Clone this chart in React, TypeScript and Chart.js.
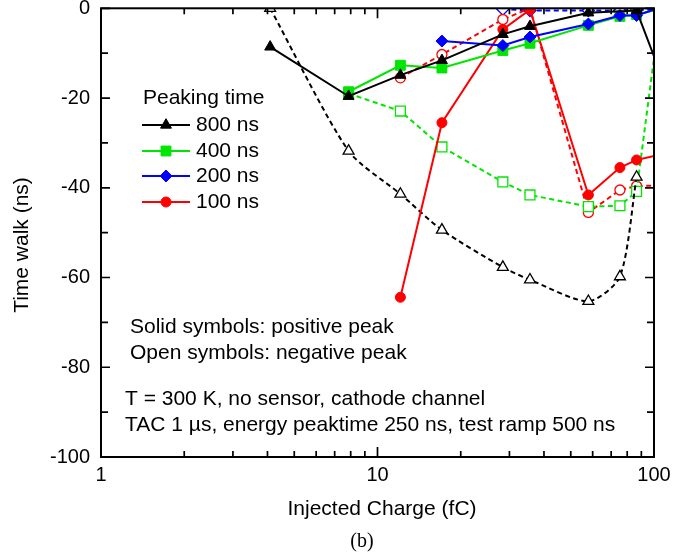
import React, { useEffect, useRef } from 'react';
import { Chart, registerables } from 'chart.js';

Chart.register(...registerables);

// ---------- data ----------
const q800 = [4.09, 7.86, 12.1, 17.1, 28.4, 35.6, 57.9, 86.5, 117];
const pos800 = [-8.6, -19.6, -14.9, -11.6, -5.8, -4.0, -1.0, -0.5, -21.7];
const qNeg800 = [4.09, 7.86, 12.1, 17.1, 28.4, 35.6, 57.9, 75.3, 86.5];
const neg800 = [0, -31.8, -41.4, -49.4, -57.7, -60.5, -65.3, -59.8, -37.6];

const q400 = [7.86, 12.1, 17.1, 28.4, 35.6, 57.9, 75.3, 86.5, 117];
const pos400 = [-18.6, -12.7, -13.3, -9.4, -7.8, -3.8, -1.8, -1.4, 0.5];
const neg400 = [-19.0, -22.9, -30.9, -38.7, -41.6, -44.2, -44.0, -40.8, 21];

const q200 = [17.1, 28.4, 35.6, 57.9, 75.3, 86.5, 117];
const pos200 = [-7.3, -8.3, -6.4, -3.5, -1.6, -1.6, 1.1];
const qNeg200 = [28.4, 35.6, 57.9, 75.3, 86.5, 117];
const neg200 = [-0.2, -0.5, -0.5, -0.5, -0.4, 0];

const q100 = [12.1, 17.1, 28.4, 35.6, 57.9, 75.3, 86.5, 117];
const pos100 = [-64.4, -25.5, -4.7, -0.3, -41.6, -35.5, -33.8, -32.0];
const neg100 = [-15.5, -10.3, -2.5, 0, -45.5, -40.5, -39.6, -39.5];

const legendTitle = 'Peaking time';
const peakLabels = ['800 ns', '400 ns', '200 ns', '100 ns'];
const noteLines = [
  'Solid symbols: positive peak',
  'Open symbols: negative peak',
  'T = 300 K, no sensor, cathode channel',
  'TAC 1 \u00b5s, energy peaktime 250 ns, test ramp 500 ns',
];
const caption = '(b)';
const xTitle = 'Injected Charge (fC)';
const yTitle = 'Time walk (ns)';

const xMajorTicks = [1, 10, 100];
const xMinorTicks = [2, 3, 4, 5, 6, 7, 8, 9, 20, 30, 40, 50, 60, 70, 80, 90];
const yMajorTicks = [-100, -80, -60, -40, -20, 0];
const yMinorTicks = [-90, -70, -50, -30, -10];

// ---------- styles ----------
const FONT = '"Liberation Sans", Arial, Helvetica, sans-serif';
const BLACK = '#000000';
const GREEN = '#00e600';
const BLUE = '#0000ff';
const RED = '#ff0000';
const DASH = [5, 3.5];

const pts = (xs: number[], ys: number[]) => xs.map((x, i) => ({ x, y: ys[i] }));

const solid = (label: string, color: string, style: string, r: number, xs: number[], ys: number[]) => ({
  label,
  data: pts(xs, ys),
  borderColor: color,
  backgroundColor: color,
  borderWidth: 2,
  pointStyle: style,
  pointRadius: r,
  pointBorderWidth: 1,
  pointBorderColor: color,
  pointBackgroundColor: color,
  tension: 0,
});

const open = (label: string, color: string, style: string, r: number, xs: number[], ys: number[], tension = 0) => ({
  label,
  data: pts(xs, ys),
  borderColor: color,
  backgroundColor: '#ffffff',
  borderWidth: 2,
  borderDash: DASH,
  pointStyle: style,
  pointRadius: r,
  pointBorderWidth: 1.3,
  pointBorderColor: color,
  pointBackgroundColor: '#ffffff',
  tension,
});

const legendItems = [
  { color: BLACK, style: 'triangle', r: 6.3 },
  { color: GREEN, style: 'rect', r: 7 },
  { color: BLUE, style: 'rectRot', r: 6 },
  { color: RED, style: 'circle', r: 5 },
];

function markerPath(ctx: CanvasRenderingContext2D, style: string, x: number, y: number, r: number) {
  ctx.beginPath();
  if (style === 'triangle') {
    ctx.moveTo(x, y - r);
    ctx.lineTo(x + 0.866 * r, y + 0.5 * r);
    ctx.lineTo(x - 0.866 * r, y + 0.5 * r);
    ctx.closePath();
  } else if (style === 'rect') {
    const s = Math.SQRT1_2 * r;
    ctx.rect(x - s, y - s, 2 * s, 2 * s);
  } else if (style === 'rectRot') {
    ctx.moveTo(x - r, y);
    ctx.lineTo(x, y - r);
    ctx.lineTo(x + r, y);
    ctx.lineTo(x, y + r);
    ctx.closePath();
  } else {
    ctx.arc(x, y, r, 0, Math.PI * 2);
  }
}

const framePlugin = {
  id: 'frameTicks',
  afterDatasetsDraw(chart: any) {
    const { ctx, chartArea: a, scales } = chart;
    const xs = scales.x;
    const ys = scales.y;
    ctx.save();
    ctx.strokeStyle = BLACK;
    ctx.lineWidth = 2;
    ctx.strokeRect(a.left, a.top, a.right - a.left, a.bottom - a.top);
    ctx.lineWidth = 1.7;
    ctx.beginPath();
    const xt = (v: number, len: number) => {
      const px = xs.getPixelForValue(v);
      ctx.moveTo(px, a.bottom);
      ctx.lineTo(px, a.bottom - len);
      ctx.moveTo(px, a.top);
      ctx.lineTo(px, a.top + len);
    };
    const yt = (v: number, len: number) => {
      const py = ys.getPixelForValue(v);
      ctx.moveTo(a.left, py);
      ctx.lineTo(a.left + len, py);
      ctx.moveTo(a.right, py);
      ctx.lineTo(a.right - len, py);
    };
    xMajorTicks.forEach((v) => xt(v, 10));
    xMinorTicks.forEach((v) => xt(v, 6));
    yMajorTicks.forEach((v) => yt(v, 9));
    yMinorTicks.forEach((v) => yt(v, 7));
    ctx.stroke();
    ctx.restore();
  },
  afterDraw(chart: any) {
    const { ctx } = chart;
    ctx.save();
    ctx.fillStyle = BLACK;
    ctx.textBaseline = 'middle';
    ctx.textAlign = 'left';
    ctx.font = `21px ${FONT}`;
    // legend
    ctx.fillText(legendTitle, 143, 98);
    const rows = [125, 151, 176, 202];
    legendItems.forEach((it, i) => {
      const y = rows[i];
      ctx.strokeStyle = it.color;
      ctx.lineWidth = 2;
      ctx.beginPath();
      ctx.moveTo(142, y);
      ctx.lineTo(190, y);
      ctx.stroke();
      markerPath(ctx, it.style, 166, y, it.r);
      ctx.fillStyle = it.color;
      ctx.fill();
      ctx.lineWidth = 1;
      ctx.stroke();
      ctx.fillStyle = BLACK;
      ctx.fillText(peakLabels[i], 196, y);
    });
    // notes
    ctx.fillText(noteLines[0], 130, 327);
    ctx.fillText(noteLines[1], 130, 353);
    ctx.fillText(noteLines[2], 125, 399);
    ctx.fillText(noteLines[3], 125, 425);
    // axis titles
    ctx.textAlign = 'center';
    ctx.fillText(xTitle, 382, 509);
    ctx.save();
    ctx.translate(22.5, 245);
    ctx.rotate(-Math.PI / 2);
    ctx.fillText(yTitle, 0, 0);
    ctx.restore();
    // caption
    ctx.font = `20px "Liberation Serif", "Times New Roman", serif`;
    ctx.fillText(caption, 362, 542);
    ctx.restore();
  },
};

export default function App() {
  const ref = useRef<HTMLCanvasElement>(null);
  useEffect(() => {
    if (!ref.current) return;
    Chart.defaults.font.family = FONT;
    Chart.defaults.color = BLACK;
    const chart = new Chart(ref.current, {
      type: 'line',
      data: {
        datasets: [
          solid('800 ns', BLACK, 'triangle', 6.3, q800, pos800),
          solid('200 ns', BLUE, 'rectRot', 6, q200, pos200),
          solid('400 ns', GREEN, 'rect', 7, q400, pos400),
          solid('100 ns', RED, 'circle', 5, q100, pos100),
          open('800 ns neg', BLACK, 'triangle', 6.3, qNeg800, neg800, 0.25),
          open('400 ns neg', GREEN, 'rect', 7, q400, neg400),
          open('100 ns neg', RED, 'circle', 5, q100, neg100),
          open('200 ns neg', BLUE, 'rectRot', 6, qNeg200, neg200),
        ] as any,
      },
      options: {
        animation: false,
        responsive: false,
        maintainAspectRatio: false,
        layout: { padding: { left: 0, right: 36, top: 7, bottom: 0 } },
        plugins: { legend: { display: false }, tooltip: { enabled: false } },
        scales: {
          x: {
            type: 'logarithmic',
            min: 1,
            max: 100,
            grid: { display: false, drawTicks: false },
            border: { display: false },
            ticks: {
              autoSkip: false,
              maxRotation: 0,
              padding: 6,
              color: BLACK,
              font: { size: 20 },
              callback: (v: any) => {
                const n = Number(v);
                return xMajorTicks.some((m) => Math.abs(m - n) < 1e-6) ? String(Math.round(n)) : '';
              },
            },
            title: { display: false, text: xTitle },
            afterFit: (s: any) => {
              s.height = 97;
              s.paddingLeft = 0;
              s.paddingRight = 0;
            },
          },
          y: {
            type: 'linear',
            min: -100,
            max: 0,
            grid: { display: false, drawTicks: false },
            border: { display: false },
            ticks: { stepSize: 20, padding: 11, color: BLACK, font: { size: 20 } },
            title: { display: false, text: yTitle },
            afterFit: (s: any) => {
              s.width = 101;
              s.paddingTop = 0;
              s.paddingBottom = 0;
            },
          },
        },
      } as any,
      plugins: [framePlugin],
    });
    return () => chart.destroy();
  }, []);
  return (
    <div style={{ position: 'fixed', left: 0, top: 0, width: 690, height: 554, background: '#ffffff' }}>
      <canvas ref={ref} width={690} height={554} style={{ display: 'block', width: 690, height: 554 }} />
    </div>
  );
}
